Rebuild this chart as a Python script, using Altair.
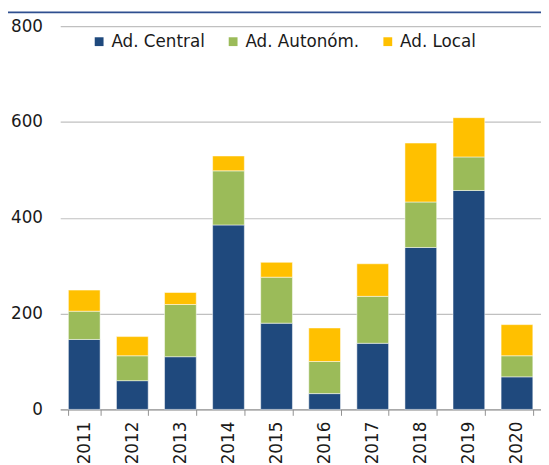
import altair as alt
import pandas as pd

years = ["2011", "2012", "2013", "2014", "2015", "2016", "2017", "2018", "2019", "2020"]
series = ["Ad. Central", "Ad. Autonóm.", "Ad. Local"]
central = [146, 60, 110, 385, 180, 33, 138, 338, 457, 68]
autonom = [59, 52, 109, 113, 96, 67, 98, 95, 70, 44]
local = [44, 40, 25, 31, 31, 70, 68, 123, 82, 65]
colors = ["#1F497D", "#9BBB59", "#FFC000"]
y_ticks = [0, 200, 400, 600, 800]

rows = []
for i, y in enumerate(years):
    for k, (s, vals) in enumerate(zip(series, [central, autonom, local])):
        rows.append({"year": y, "series": s, "value": vals[i], "order": k})
df = pd.DataFrame(rows)

W, H = 488, 389
FONT = "DejaVu Sans"

bars = alt.Chart(df).mark_bar(stroke="white", strokeWidth=0.5).encode(
    x=alt.X("year:N", sort=years, title=None,
            scale=alt.Scale(paddingInner=0.34, paddingOuter=0.17),
            axis=alt.Axis(labelAngle=-90, labelFontSize=17, labelColor="#1a1a1a",
                          labelFont=FONT, tickBand="extent", tickSize=6,
                          tickColor="#909090", domainColor="#909090",
                          labelPadding=6, labelBaseline="middle", labelAlign="right",
                          grid=False)),
    y=alt.Y("value:Q", stack="zero", title=None,
            scale=alt.Scale(domain=[0, 800], nice=False),
            axis=alt.Axis(values=y_ticks, labelFontSize=17, labelColor="#1a1a1a",
                          labelFont=FONT, domain=False, ticks=False, labelPadding=18,
                          grid=True, gridColor="#C0C0C0", gridWidth=1.2)),
    color=alt.Color("series:N", sort=series,
                    scale=alt.Scale(domain=series, range=colors),
                    legend=alt.Legend(title=None, orient="none", legendX=31, legendY=7,
                                      direction="horizontal", symbolType="square",
                                      symbolSize=80, symbolStrokeWidth=0,
                                      labelFontSize=17, labelFont=FONT,
                                      labelColor="#1a1a1a", columnPadding=20,
                                      labelOffset=4)),
    order=alt.Order("order:Q"),
)

topline = alt.Chart(pd.DataFrame({"a": [0]})).mark_rule(color="#2F4F8F", strokeWidth=2).encode(
    x=alt.value(-60), x2=alt.value(W + 10), y=alt.value(-14)
)

chart = alt.layer(topline, bars).properties(
    width=W, height=H,
    autosize=alt.AutoSizeParams(type="none"),
    padding={"left": 53, "top": 15, "right": 0, "bottom": 53},
).configure_view(stroke=None)

chart.save("out.html", embed_options={"renderer": "svg", "actions": False})
